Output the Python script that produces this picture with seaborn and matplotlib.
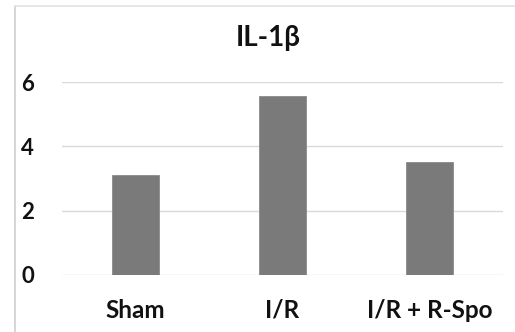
import matplotlib
matplotlib.use('Agg')
import matplotlib.pyplot as plt
import seaborn as sns
import pandas as pd
from matplotlib.lines import Line2D

# 데이터
groups = ['Sham', 'I/R', 'I/R + R-Spo']
values = [3.1, 5.57, 3.52]
y_ticks = [0, 2, 4, 6]

df = pd.DataFrame({'group': groups, 'value': values})

sns.set_style('white')
plt.rcParams['font.family'] = ['Lato', 'DejaVu Sans']

fig = plt.figure(figsize=(5.15, 3.32), dpi=100)
ax = fig.add_axes([0.120, 0.172, 0.857, 0.581])

sns.barplot(x='group', y='value', data=df, color='#7a7a7a', width=0.32,
            edgecolor='#8a8a8a', linewidth=0.6, saturation=1, ax=ax, zorder=3)

ax.set_ylim(0, 6)
ax.set_yticks(y_ticks)
ax.yaxis.grid(True, color='#d9d9d9', linewidth=1.0, zorder=0)
ax.xaxis.grid(False)
for s in ax.spines.values():
    s.set_visible(False)
ax.set_xlabel('')
ax.set_ylabel('')
ax.tick_params(axis='y', length=0, pad=20, labelsize=16)
ax.tick_params(axis='x', length=0, pad=17, labelsize=17.5)
for lab in ax.get_xticklabels() + ax.get_yticklabels():
    lab.set_fontweight('bold')
    lab.set_color('#111111')

fig.text(0.52, 0.886, 'IL-1β', ha='center', va='center', fontsize=20,
         fontweight='bold', color='#111111')

# 바깥 테두리
fig.add_artist(Line2D([15/515, 15/515], [0, 1 - 6/332], color='#d0d0d0', linewidth=1.2))
fig.add_artist(Line2D([15/515, 1], [1 - 6/332, 1 - 6/332], color='#e3e3e3', linewidth=1.2))

fig.savefig('out.png', dpi=100)
